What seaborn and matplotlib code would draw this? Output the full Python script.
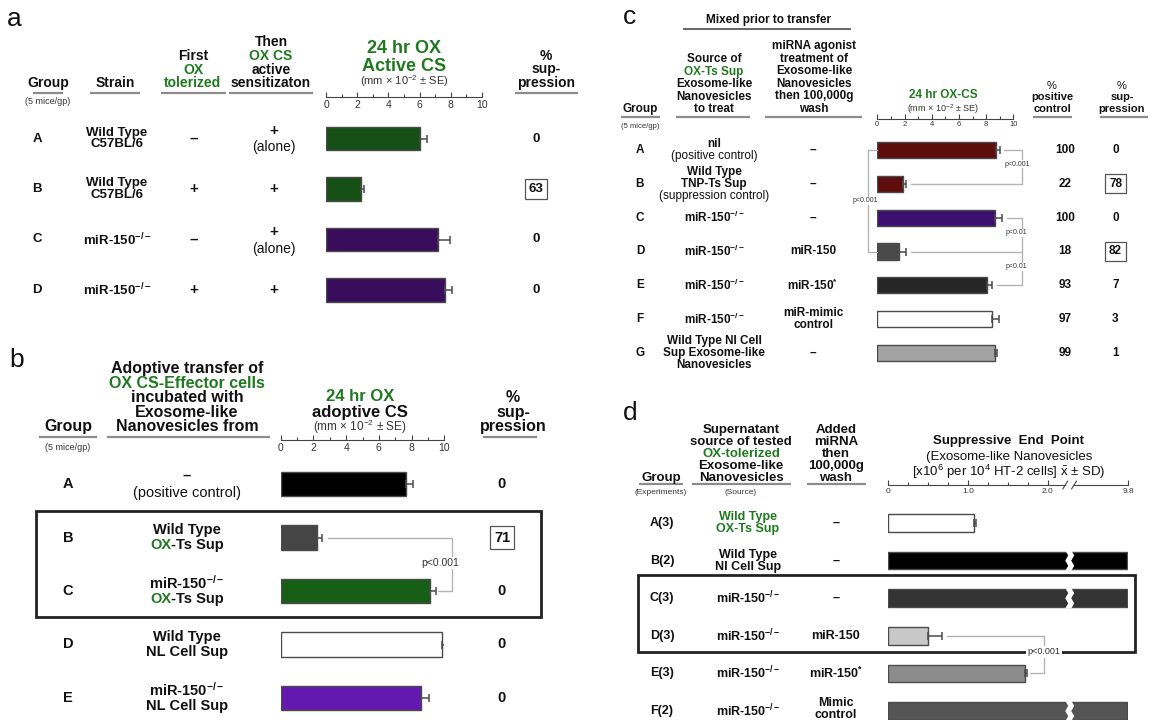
import numpy as np
import pandas as pd
import matplotlib
matplotlib.use("Agg")
import matplotlib.pyplot as plt
import seaborn as sns
from matplotlib.lines import Line2D
from matplotlib.patches import Rectangle, Polygon
from matplotlib.transforms import IdentityTransform

sns.set_theme(style="white")
plt.rcParams["font.family"] = ["Liberation Sans", "DejaVu Sans"]
plt.rcParams["mathtext.fontset"] = "custom"
plt.rcParams["mathtext.rm"] = "Liberation Sans"
plt.rcParams["mathtext.it"] = "Liberation Sans:italic"
plt.rcParams["mathtext.bf"] = "Liberation Sans:bold"
plt.rcParams["mathtext.default"] = "regular"

GREEN = "#1f7a1f"
INK = "#111111"
RULE = "#8c8c8c"
EDGE = "#4a4a4a"
LINK = "#b4b4b4"
KO = "miR-150$^{-/-}$"

# ---------------- panel a: active contact sensitivity ----------------
a_groups = ["A", "B", "C", "D"]
a_strain = [["Wild Type", "C57BL/6"], ["Wild Type", "C57BL/6"], [KO], [KO]]
a_tolerized = ["–", "+", "–", "+"]
a_alone = [True, False, True, False]
a_cs = [6.0, 2.25, 7.2, 7.65]
a_se = [0.45, 0.2, 0.75, 0.43]
a_supp = ["0", "63", "0", "0"]
a_boxed = [False, True, False, False]
a_colors = ["#0d5a0d", "#0d5a0d", "#3b0068", "#3b0068"]

# ---------------- panel b: adoptive transfer ----------------
b_groups = ["A", "B", "C", "D", "E"]
b_source = [["–", "(positive control)"],
            ["Wild Type", [("OX", GREEN), ("-Ts Sup", INK)]],
            [KO, [("OX", GREEN), ("-Ts Sup", INK)]],
            ["Wild Type", "NL Cell Sup"],
            [KO, "NL Cell Sup"]]
b_cs = [7.66, 2.22, 9.13, 9.88, 8.55]
b_se = [0.45, 0.32, 0.35, 0.2, 0.53]
b_supp = ["0", "71", "0", "0", "0"]
b_boxed = [False, True, False, False, False]
b_colors = ["#000000", "#454545", "#0b6b0b", "#ffffff", "#6200c8"]

# ---------------- panel c: miRNA agonist treatment ----------------
c_groups = ["A", "B", "C", "D", "E", "F", "G"]
c_source = [["nil", "(positive control)"],
            ["Wild Type", "TNP-Ts Sup", "(suppression control)"],
            [KO], [KO], [KO], [KO],
            ["Wild Type NI Cell", "Sup Exosome-like", "Nanovesicles"]]
c_source_w = [["bold", "normal"], ["bold", "bold", "normal"], None, None, None, None, None]
c_agonist = [["–"], ["–"], ["–"], ["miR-150"], ["miR-150$^{*}$"], ["miR-mimic", "control"], ["–"]]
c_cs = [8.73, 1.92, 8.68, 1.56, 8.08, 8.42, 8.64]
c_se = [0.3, 0.18, 0.47, 0.55, 0.37, 0.56, 0.13]
c_pos = ["100", "22", "100", "18", "93", "97", "99"]
c_supp = ["0", "78", "0", "82", "7", "3", "1"]
c_boxed = [False, True, False, True, False, False, False]
c_colors = ["#6b0000", "#6b0000", "#3a0080", "#4a4a4a", "#262626", "#ffffff", "#a3a3a3"]

# ---------------- panel d: suppressive end point ----------------
d_groups = ["A(3)", "B(2)", "C(3)", "D(3)", "E(3)", "F(2)"]
d_source = [["Wild Type", "OX-Ts Sup"], ["Wild Type", "NI Cell Sup"], [KO], [KO], [KO], [KO]]
d_source_c = [[GREEN, GREEN], None, None, None, None, None]
d_added = [["–"], ["–"], ["–"], ["miR-150"], ["miR-150$^{*}$"], ["Mimic", "control"]]
d_end = [1.07, 9.6, 9.6, 0.50, 1.72, 9.6]
d_sd = [0.03, 0.0, 0.0, 0.17, 0.02, 0.0]
d_colors = ["#ffffff", "#000000", "#333333", "#c8c8c8", "#8c8c8c", "#555555"]

W, H = 1154, 720
fig = plt.figure(figsize=(W / 100, H / 100), dpi=100, facecolor="white")
renderer = fig.canvas.get_renderer()


def txt(x, y, s, size, weight="bold", color=INK, ha="center", va="baseline", **kw):
    return fig.text(x / W, 1 - y / H, s, fontsize=size, fontweight=weight,
                    color=color, ha=ha, va=va, **kw)


def rich(x, y, parts, size, weight="bold", va="center"):
    items = [fig.text(0, 1 - y / H, s, fontsize=size, fontweight=weight, color=c,
                      ha="left", va=va) for s, c in parts]
    widths = [t.get_window_extent(renderer).width for t in items]
    cur = x - sum(widths) / 2
    for t, w in zip(items, widths):
        t.set_x(cur / W)
        cur += w


def rule(x0, x1, y, color=RULE, lw=1.6):
    fig.add_artist(Line2D([x0 / W, x1 / W], [1 - y / H] * 2, color=color, lw=lw,
                          solid_capstyle="butt"))


def header(x, y_base, lines, size, step, colors=None, weights=None):
    n = len(lines)
    for i, s in enumerate(lines):
        y = y_base - (n - 1 - i) * step
        c = colors[i] if colors else INK
        w = weights[i] if weights else "bold"
        txt(x, y, s, size, weight=w, color=c)


def cell(x, yc, lines, size, step, weights=None, colors=None):
    n = len(lines)
    for i, s in enumerate(lines):
        y = yc + (i - (n - 1) / 2) * step
        w = weights[i] if weights else "bold"
        if isinstance(s, list):
            rich(x, y, s, size, w)
        else:
            c = colors[i] if colors else INK
            txt(x, y, s, size, weight=w, color=c, va="center")


BOX = dict(boxstyle="square,pad=0.3", fc="white", ec="#555555", lw=0.9)


def value_cell(x, yc, s, size, boxed):
    txt(x, yc, s, size, va="center", bbox=BOX if boxed else None)


def bars(x0, x1, yc0, yc1, groups, values, errs, colors, width, scale=None, xlim=(0, 10)):
    n = len(groups)
    step = (yc1 - yc0) / (n - 1)
    top, bot = yc0 - step / 2, yc1 + step / 2
    ax = fig.add_axes([x0 / W, 1 - bot / H, (x1 - x0) / W, (bot - top) / H])
    df = pd.DataFrame({"group": groups, "value": values})
    sns.barplot(data=df, x="value", y="group", hue="group",
                palette=dict(zip(groups, colors)), legend=False, orient="h",
                width=width, edgecolor=EDGE, linewidth=1.0, errorbar=None, ax=ax)
    if scale is not None:
        ax.set_xscale("function", functions=scale)
    v = np.asarray(values, float)
    e = np.asarray(errs, float)
    m = e > 0
    ax.errorbar(v[m], np.arange(n)[m], xerr=[np.zeros(m.sum()), e[m]], fmt="none",
                ecolor=EDGE, elinewidth=1.1, capsize=3, capthick=1.1, zorder=3)
    ax.set_xlim(*xlim)
    ax.set_ylim(n - 0.5, -0.5)
    ax.axis("off")
    return ax, [yc0 + i * step for i in range(n)]


def scale_axis(x0, x1, y, major, labels, minor, size, pad, scale=None, xlim=(0, 10)):
    ax = fig.add_axes([x0 / W, 1 - y / H, (x1 - x0) / W, 1e-4])
    ax.patch.set_visible(False)
    if scale is not None:
        ax.set_xscale("function", functions=scale)
    ax.set_xlim(*xlim)
    ax.set_yticks([])
    for s in ["top", "left", "right"]:
        ax.spines[s].set_visible(False)
    ax.spines["bottom"].set_color("#444444")
    ax.spines["bottom"].set_linewidth(0.8)
    ax.set_xticks(major)
    ax.set_xticklabels(labels)
    ax.set_xticks(minor, minor=True)
    ax.tick_params(axis="x", which="both", direction="in", color="#444444", width=0.8,
                   labelsize=size, pad=pad, labelcolor="#333333", bottom=True)
    ax.tick_params(axis="x", which="major", length=3.5)
    ax.tick_params(axis="x", which="minor", length=2.2)
    return ax


def link(ax, segs, **kw):
    for xs, ys in segs:
        ax.plot(xs, ys, color=LINK, lw=1.0, clip_on=False, zorder=1, **kw)


def ptext(ax, x, y, s, size):
    ax.text(x, y, s, fontsize=size, color="#333333", ha="center", va="center", zorder=4,
            bbox=dict(boxstyle="square,pad=0.1", fc="white", ec="none"), clip_on=False)


# ======================= panel a =======================
txt(14, 19, "a", 19, weight="normal", va="center")
txt(48, 87, "Group", 10)
txt(48, 101, "(5 mice/gp)", 6.5, weight="normal", va="center", color="#333333")
rule(33, 63, 93)
txt(115, 87, "Strain", 10)
rule(90, 140, 93)
header(193, 87, ["First", "OX", "tolerized"], 10, 13.5, colors=[INK, GREEN, GREEN])
rule(161, 226, 93)
header(271, 87, ["Then", "OX CS", "active", "sensitizaton"], 10, 13.5,
       colors=[INK, GREEN, INK, INK])
rule(229, 313, 93)
header(404, 71, ["24 hr OX", "Active CS"], 13, 18, colors=[GREEN, GREEN])
txt(404, 85, "(mm × 10$^{-2}$ ± SE)", 8, weight="normal", color="#333333")
header(546, 87, ["%", "sup-", "pression"], 10, 13.5)
rule(515, 578, 93)

scale_axis(326, 482, 97, [0, 2, 4, 6, 8, 10], ["0", "2", "4", "6", "8", "10"],
           [1, 3, 5, 7, 9], 7.5, 2.5)
ax_a, a_y = bars(326, 482, 138.5, 290, a_groups, a_cs, a_se, a_colors, 0.475)
for i, yc in enumerate(a_y):
    txt(37, yc, a_groups[i], 9.5, va="center")
    cell(117, yc, a_strain[i], 9.5, 11.5)
    txt(194, yc, a_tolerized[i], 11, va="center")
    if a_alone[i]:
        txt(274, yc - 7.5, "+", 11, va="center")
        txt(274, yc + 9, "(alone)", 10, weight="normal", va="center")
    else:
        txt(274, yc, "+", 11, va="center")
    value_cell(536, yc, a_supp[i], 9.5, a_boxed[i])

# ======================= panel b =======================
txt(17, 360, "b", 19, weight="normal", va="center")
txt(68, 431, "Group", 11.5)
txt(68, 448, "(5 mice/gp)", 6.5, weight="normal", va="center", color="#333333")
rule(39, 97, 437)
header(187, 431, ["Adoptive transfer of", "OX CS-Effector cells", "incubated with",
                  "Exosome-like", "Nanovesicles from"], 11.5, 14.5,
       colors=[INK, GREEN, INK, INK, INK])
rule(107, 270, 437)
header(360, 417, ["24 hr OX", "adoptive CS"], 12, 16, colors=[GREEN, INK])
txt(360, 431, "(mm × 10$^{-2}$ ± SE)", 8.5, weight="normal", color="#333333")
header(513, 431, ["%", "sup-", "pression"], 11.5, 14.5)
rule(483, 537, 437)

scale_axis(280.7, 444.3, 439.5, [0, 2, 4, 6, 8, 10], ["0", "2", "4", "6", "8", "10"],
           [1, 3, 5, 7, 9], 7.5, 2.5)
ax_b, b_y = bars(280.7, 444.3, 484, 698, b_groups, b_cs, b_se, b_colors, 0.467)
for i, yc in enumerate(b_y):
    txt(68, yc, b_groups[i], 10.5, va="center")
    if i == 0:
        cell(187, yc, b_source[i], 10.5, 17, weights=["bold", "normal"])
    else:
        cell(187, yc, b_source[i], 10.5, 15.5)
    value_cell(502, yc, b_supp[i], 10.5, b_boxed[i])
link(ax_b, [([2.9, 10.45], [1, 1]), ([10.45, 10.45], [1, 2]), ([9.6, 10.45], [2, 2])])
ptext(ax_b, 9.76, 1.47, "p<0.001", 7.5)
fig.add_artist(Rectangle((36 / W, 1 - 617 / H), (541 - 36) / W, (617 - 511) / H,
                         fill=False, ec="#222222", lw=2.0, zorder=2))

# ======================= panel c =======================
txt(630, 17, "c", 19, weight="normal", va="center")
txt(769, 23, "Mixed prior to transfer", 8.5)
rule(683, 851, 29, color="#666666", lw=1.4)
txt(640, 112, "Group", 8.5)
txt(640, 126, "(5 mice/gp)", 5.5, weight="normal", va="center", color="#333333")
rule(621, 660, 117)
header(714, 112, ["Source of", "OX-Ts Sup", "Exosome-like", "Nanovesicles", "to treat"],
       8.5, 12.5, colors=[INK, GREEN, INK, INK, INK])
rule(676, 750, 117)
header(814, 112, ["miRNA agonist", "treatment of", "Exosome-like", "Nanovesicles",
                  "then 100,000g", "wash"], 8.5, 12.5)
rule(765, 862, 117)
txt(943, 98, "24 hr OX-CS", 8.5, color=GREEN)
txt(943, 112, "(mm × 10$^{-2}$ ± SE)", 6.5, weight="normal", color="#333333")
header(1052, 112, ["%", "positive", "control"], 8, 11.5, weights=["normal", "bold", "bold"])
rule(1033, 1072, 117)
header(1122, 112, ["%", "sup-", "pression"], 8, 11.5, weights=["normal", "bold", "bold"])
rule(1100, 1148, 117)

scale_axis(877.3, 1013.3, 119, [0, 2, 4, 6, 8, 10], ["0", "2", "4", "6", "8", "10"],
           [1, 3, 5, 7, 9], 5.5, 1.5)
ax_c, c_y = bars(877.3, 1013.3, 150, 353, c_groups, c_cs, c_se, c_colors, 0.473)
for i, yc in enumerate(c_y):
    txt(640, yc, c_groups[i], 8.5, va="center")
    cell(714, yc, c_source[i], 8.5, 12, weights=c_source_w[i])
    cell(813, yc, c_agonist[i], 8.5, 12)
    txt(1065, yc, c_pos[i], 8.5, va="center")
    value_cell(1115.5, yc, c_supp[i], 8.5, c_boxed[i])
link(ax_c, [([9.35, 10.62], [0, 0]), ([10.62, 10.62], [0, 1]), ([2.45, 10.62], [1, 1])])
ptext(ax_c, 10.3, 0.42, "p<0.001", 5)
link(ax_c, [([-0.66, -0.66], [0, 3]), ([-0.66, 0], [0, 0]), ([-0.66, 0], [3, 3])])
ptext(ax_c, -0.85, 1.5, "p<0.001", 5)
link(ax_c, [([9.5, 10.62], [2, 2]), ([10.62, 10.62], [2, 4]), ([2.45, 10.62], [3, 3]),
            ([8.8, 10.62], [4, 4])])
ptext(ax_c, 10.25, 2.45, "p<0.01", 5)
ptext(ax_c, 10.25, 3.45, "p<0.01", 5)

# ======================= panel d =======================
BRK, SQ = 2.3, 0.0948


def fwd(v):
    v = np.asarray(v, float)
    return np.where(v <= BRK, v, BRK + (v - BRK) * SQ)


def inv(u):
    u = np.asarray(u, float)
    return np.where(u <= BRK, u, BRK + (u - BRK) / SQ)


txt(630, 413, "d", 19, weight="normal", va="center")
txt(661, 481, "Group", 9.5)
txt(661, 492, "(Experiments)", 6, weight="normal", va="center", color="#333333")
rule(639, 683, 484)
header(741, 481, ["Supernatant", "source of tested", "OX-tolerized", "Exosome-like",
                  "Nanovesicles"], 9.5, 12, colors=[INK, INK, GREEN, INK, INK])
txt(741, 492, "(Source)", 6, weight="normal", va="center", color="#333333")
rule(692, 791, 484)
header(836, 481, ["Added", "miRNA", "then", "100,000g", "wash"], 9.5, 12)
rule(807, 866, 484)
txt(1009, 444, "Suppressive  End  Point", 9.5)
txt(1009, 460, "(Exosome-like Nanovesicles", 9.5, weight="normal")
txt(1009, 476, "[x10$^6$ per 10$^4$ HT-2 cells] $\\bar{x}$ ± SD)", 9.5, weight="normal")

minor_d = [0.25, 0.5, 0.75, 1.25, 1.5, 1.75]
ax_ds = scale_axis(888.3, 1128.3, 485, [0, 1.0, 2.0, 9.8], ["0", "1.0", "2.0", "9.8"],
                   minor_d, 6, 2.5, scale=(fwd, inv), xlim=(0, 9.8))
ax_ds.spines["bottom"].set_bounds(0, 2.22)
ax_ds.plot([2.62, 9.8], [0, 0], transform=ax_ds.get_xaxis_transform(), color="#444444",
           lw=0.8, clip_on=False)
for xb in (2.22, 2.62):
    px, py = ax_ds.transData.transform((xb, 0))
    py = ax_ds.transAxes.transform((0, 0))[1]
    fig.add_artist(Line2D([px - 2.5, px + 2.5], [py - 4, py + 4], color="#444444", lw=0.8,
                          transform=IdentityTransform()))

ax_d, d_y = bars(888.3, 1128.3, 523, 711, d_groups, d_end, d_sd, d_colors, 0.465,
                 scale=(fwd, inv), xlim=(0, 9.8))
half = 0.465 / 2
for i, v in enumerate(d_end):
    if v > BRK:
        gx = ax_d.transData.transform((2.27, i))[0]
        y_top = ax_d.transData.transform((0, i - half))[1] + 1.5
        y_bot = ax_d.transData.transform((0, i + half))[1] - 1.5
        ys = np.linspace(y_top, y_bot, 5)
        left = gx + np.array([-4.0, -1.0, -4.0, -1.0, -4.0])
        right = left + 6.0
        pts = np.vstack([np.column_stack([left, ys]), np.column_stack([right, ys])[::-1]])
        ax_d.add_patch(Polygon(pts, closed=True, fc="white", ec="none",
                               transform=IdentityTransform(), clip_on=False, zorder=5))

for i, yc in enumerate(d_y):
    txt(662, yc, d_groups[i], 9, va="center")
    cell(748, yc, d_source[i], 9, 12, colors=d_source_c[i])
    cell(836, yc - (1.5 if len(d_added[i]) > 1 else 0), d_added[i], 9, 12)
link(ax_d, [([0.74, 1.954], [3, 3]), ([1.954, 1.954], [3, 4]), ([1.78, 1.954], [4, 4])])
fig.add_artist(Rectangle((638 / W, 1 - 652 / H), (1135 - 638) / W, (652 - 575) / H,
                         fill=False, ec="#222222", lw=2.0, zorder=2))
txt(1044, 652, "p<0.001", 6.5, weight="normal", va="center", color="#333333",
    bbox=dict(boxstyle="square,pad=0.15", fc="white", ec="none"), zorder=4)

fig.savefig("out.png", dpi=100, facecolor="white")
